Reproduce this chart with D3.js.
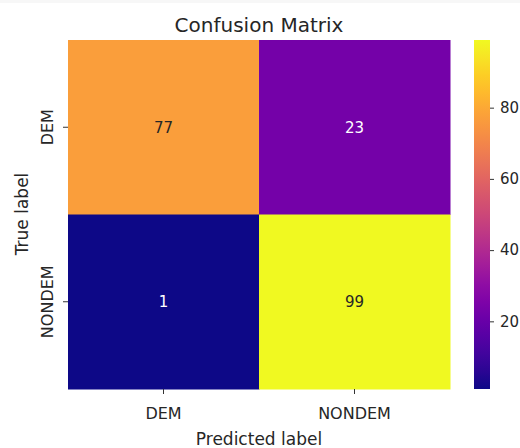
<!DOCTYPE html>
<html>
<head>
<meta charset="utf-8">
<script src="https://cdn.jsdelivr.net/npm/d3@7"></script>
<style>
  body { margin: 0; background: #fff; }
  svg { font-family: "DejaVu Sans", sans-serif; }
</style>
</head>
<body>
<div id="chart"></div>
<script>
// confusion matrix values
const labels = ["DEM", "NONDEM"]
const matrix = [
  [77, 23],
  [1, 99]
]
const cbTicks = [20, 40, 60, 80]

const width = 520, height = 448

const cells = []
matrix.forEach((row, i) => row.forEach((v, j) => cells.push({ row: labels[i], col: labels[j], value: v })))

const vmin = d3.min(cells, d => d.value)
const vmax = d3.max(cells, d => d.value)
const color = d3.scaleSequential(d3.interpolatePlasma).domain([vmin, vmax])

const svg = d3.select("#chart").append("svg")
  .attr("width", width)
  .attr("height", height)

// thin grey strip at top of the screenshot
svg.append("rect").attr("x", 0).attr("y", 0).attr("width", width).attr("height", 3).attr("fill", "#f7f7f7")

const x = d3.scaleBand().domain(labels).range([68, 450])
const y = d3.scaleBand().domain(labels).range([40, 389])

svg.append("g")
  .selectAll("rect")
  .data(cells)
  .enter().append("rect")
  .attr("x", d => x(d.col))
  .attr("y", d => y(d.row))
  .attr("width", x.bandwidth() + 0.5)
  .attr("height", y.bandwidth() + 0.5)
  .attr("fill", d => color(d.value))

// annotations, dark text on light cells
svg.append("g")
  .selectAll("text")
  .data(cells)
  .enter().append("text")
  .attr("x", d => x(d.col) + x.bandwidth() / 2)
  .attr("y", d => y(d.row) + y.bandwidth() / 2)
  .attr("dy", "0.36em")
  .attr("text-anchor", "middle")
  .style("font-size", "15px")
  .attr("fill", d => d3.hsl(color(d.value)).l > 0.5 ? "#262626" : "#ffffff")
  .text(d => d.value)

// x axis
const xAxis = svg.append("g")
  .attr("transform", "translate(0,389)")
  .call(d3.axisBottom(x).tickSize(5))
xAxis.select(".domain").remove()
xAxis.selectAll("text")
  .style("font-size", "16px").attr("fill", "#262626").attr("font-family", "DejaVu Sans")
  .attr("y", 30).attr("dy", null)
xAxis.selectAll("line").attr("stroke", "#333")

// y axis, rotated tick labels
const yAxis = svg.append("g")
  .attr("transform", "translate(68,0)")
  .call(d3.axisLeft(y).tickSize(5))
yAxis.select(".domain").remove()
yAxis.selectAll("line").attr("stroke", "#333")
yAxis.selectAll("text")
  .style("font-size", "16px").attr("fill", "#262626").attr("font-family", "DejaVu Sans")
  .attr("x", null).attr("dy", null)
  .attr("text-anchor", "middle")
  .attr("transform", "translate(-15,0) rotate(-90)")

// axis titles
svg.append("text")
  .attr("x", 259).attr("y", 445)
  .attr("text-anchor", "middle")
  .style("font-size", "17px").attr("fill", "#262626")
  .text("Predicted label")

svg.append("text")
  .attr("transform", "translate(28,214) rotate(-90)")
  .attr("text-anchor", "middle")
  .style("font-size", "17px").attr("fill", "#262626")
  .text("True label")

svg.append("text")
  .attr("x", 259).attr("y", 32)
  .attr("text-anchor", "middle")
  .style("font-size", "20px").attr("fill", "#262626")
  .text("Confusion Matrix")

// colorbar
const cbX = 474, cbW = 16
const cbY = d3.scaleLinear().domain([vmin, vmax]).range([389, 40])
const defs = svg.append("defs")
const grad = defs.append("linearGradient")
  .attr("id", "cbgrad")
  .attr("x1", "0%").attr("y1", "100%").attr("x2", "0%").attr("y2", "0%")
d3.range(0, 1.0001, 0.05).forEach(t => {
  grad.append("stop").attr("offset", (t * 100) + "%").attr("stop-color", d3.interpolatePlasma(t))
})
svg.append("rect")
  .attr("x", cbX).attr("y", 40)
  .attr("width", cbW).attr("height", 349)
  .attr("fill", "url(#cbgrad)")

const cbAxis = svg.append("g")
  .attr("transform", `translate(${cbX + cbW},0)`)
  .call(d3.axisRight(cbY).tickValues(cbTicks).tickSize(4).tickPadding(6))
cbAxis.select(".domain").remove()
cbAxis.selectAll("line").attr("stroke", "#333")
cbAxis.selectAll("text").style("font-size", "15px").attr("fill", "#262626").attr("font-family", "DejaVu Sans")
</script>
</body>
</html>
